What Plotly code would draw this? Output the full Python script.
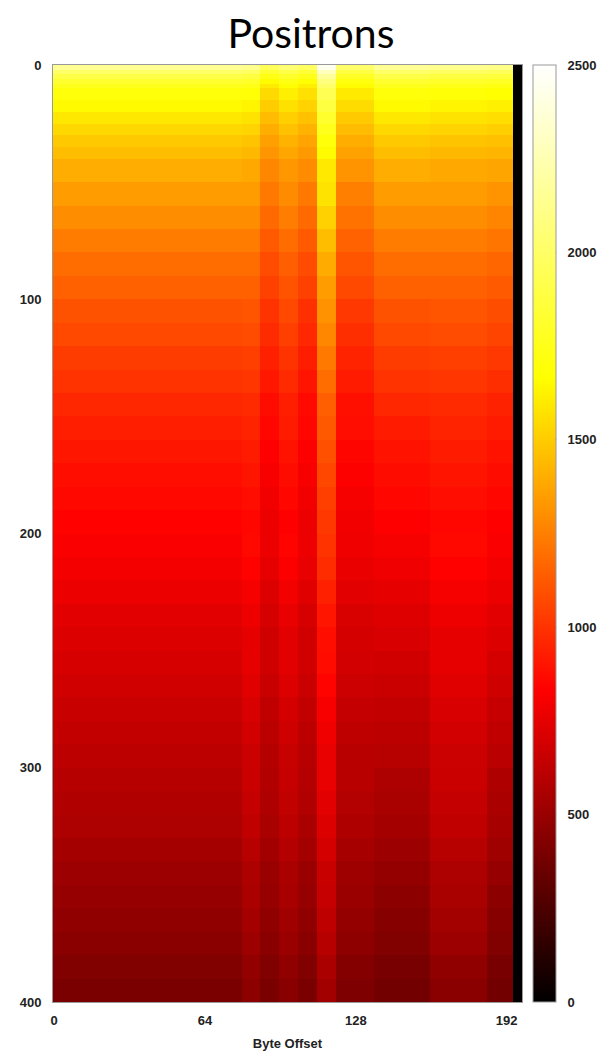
import plotly.graph_objects as go

# Column bands (byte offset edges) and row bins (edges)
col_edges = [-0.5, 79.5, 87.5, 95.5, 103.5, 111.5, 119.5, 135.5, 159.5, 183.5, 194.5, 198.5]
row_edges = [0, 2, 4, 6, 8, 10, 15, 20, 25, 30, 35, 40, 50, 60, 70, 80, 90, 100,
             110, 120, 130, 140, 150, 160, 170, 180, 190, 200, 210, 220, 230, 240,
             250, 260, 270, 280, 290, 300, 310, 320, 330, 340, 350, 360, 370, 380, 390, 400]

base_counts = [2150, 2000, 1900, 1820, 1760, 1700, 1650, 1590, 1540, 1490, 1450,
               1400, 1345, 1295, 1240, 1190, 1150,
               1100, 1070, 1030, 1000, 960, 930, 905, 880, 860, 840,
               820, 800, 770, 740, 720, 700, 680, 655, 635, 615,
               595, 580, 565, 540, 510, 490, 470, 450, 420, 400]

# Relative level of each column band in eight depth zones (50 rows each)
zone_edges = [0, 50, 100, 150, 200, 250, 300, 350, 400]
band_rel_z1 = [1.00, 0.99, 0.91, 0.95, 0.92, 1.14, 0.94, 1.00, 0.99, 0.98, 0.0]
band_rel_z2 = [1.00, 1.00, 0.91, 0.96, 0.91, 1.17, 0.93, 1.00, 1.00, 0.98, 0.0]
band_rel_z3 = [1.00, 1.01, 0.91, 0.97, 0.90, 1.19, 0.92, 1.00, 1.01, 0.985, 0.0]
band_rel_z4 = [1.00, 1.02, 0.92, 0.99, 0.92, 1.21, 0.94, 0.99, 1.02, 0.99, 0.0]
band_rel_z5 = [1.00, 1.05, 0.94, 1.03, 0.95, 1.22, 0.96, 0.98, 1.05, 1.00, 0.0]
band_rel_z6 = [1.00, 1.08, 0.96, 1.06, 0.97, 1.24, 0.98, 0.97, 1.08, 0.99, 0.0]
band_rel_z7 = [1.00, 1.11, 0.98, 1.09, 0.99, 1.28, 1.01, 0.95, 1.11, 0.96, 0.0]
band_rel_z8 = [1.00, 1.14, 1.00, 1.12, 1.00, 1.32, 1.03, 0.94, 1.13, 0.94, 0.0]
band_rel = [band_rel_z1, band_rel_z2, band_rel_z3, band_rel_z4,
            band_rel_z5, band_rel_z6, band_rel_z7, band_rel_z8]

z = []
for i, b in enumerate(base_counts):
    r0 = row_edges[i]
    zi = 0
    while zi < len(band_rel) - 1 and r0 >= zone_edges[zi + 1]:
        zi += 1
    z.append([b * f for f in band_rel[zi]])

x_ticks = [0, 64, 128, 192]
y_ticks = [0, 100, 200, 300, 400]
cb_ticks = [0, 500, 1000, 1500, 2000, 2500]
cb_max = 2500

hot = [[0.0, "rgb(0,0,0)"], [1/3, "rgb(255,0,0)"], [2/3, "rgb(255,255,0)"], [1.0, "rgb(255,255,255)"]]

tfont = dict(family="Liberation Sans", size=13, color="#222222", weight="bold")

W, H = 598, 1047  # page body has an 8px margin
L, R, T, B = 45, 84, 57, 53
plot_w = W - L - R
cb_x0 = 1.024
cb_th = 23
cb_x1 = cb_x0 + cb_th / plot_w

fig = go.Figure(go.Heatmap(
    x=col_edges, y=row_edges, z=z, zmin=0, zmax=cb_max, colorscale=hot,
    colorbar=dict(
        x=cb_x0, xanchor="left", y=0.5, yanchor="middle", len=1, lenmode="fraction",
        thickness=cb_th, xpad=0, ypad=0, outlinewidth=1, outlinecolor="#999999",
        tickvals=cb_ticks, ticks="outside", ticklen=9, tickcolor="rgba(0,0,0,0)",
        tickfont=tfont,
    ),
    hoverinfo="skip",
))

# gnuplot-style inward tick marks on both edges of the colour box
dx = 5 / plot_w
for v in cb_ticks[1:-1]:
    yy = v / cb_max
    for xa, xb in [(cb_x0, cb_x0 + dx), (cb_x1 - dx, cb_x1)]:
        fig.add_shape(type="line", xref="paper", yref="paper", x0=xa, x1=xb, y0=yy, y1=yy,
                      line=dict(color="#555555", width=1))

fig.update_layout(
    width=W, height=H,
    margin=dict(l=L, r=R, t=T, b=B, autoexpand=False),
    paper_bgcolor="white", plot_bgcolor="white",
    title=dict(text="Positrons", x=303 / W, xref="container", xanchor="center",
               y=1 - 11 / H, yref="container", yanchor="top", automargin=False,
               pad=dict(t=0, b=0, l=0, r=0),
               font=dict(family="Lato", size=41, color="black")),
    font=dict(family="Liberation Sans", size=13, color="#222222"),
)
fig.update_xaxes(range=[-0.5, 198.5], tickvals=x_ticks, showgrid=False, zeroline=False,
                 showline=True, linecolor="#999999", linewidth=1, mirror=True,
                 automargin=False, tickfont=tfont, ticklabelstandoff=6,
                 title=dict(text="Byte Offset", standoff=12, font=tfont))
fig.update_yaxes(range=[400, 0], tickvals=y_ticks, showgrid=False, zeroline=False,
                 showline=True, linecolor="#999999", linewidth=1, mirror=True,
                 automargin=False, tickfont=tfont, ticklabelstandoff=8)

fig.write_html("out.html")
